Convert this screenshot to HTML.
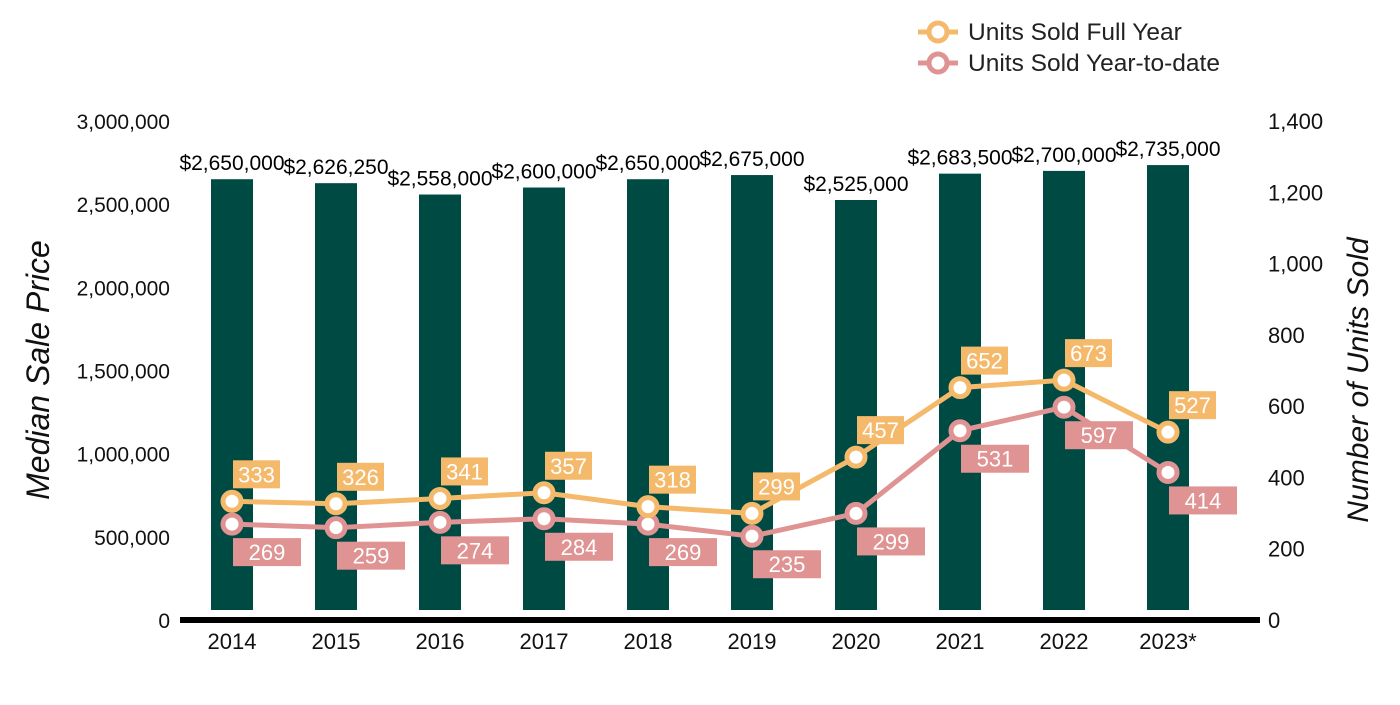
<!DOCTYPE html>
<html><head><meta charset="utf-8"><style>
body{margin:0;background:#fff;font-family:"Liberation Sans",Arial,sans-serif}
svg text{font-family:"Liberation Sans",Arial,sans-serif}
</style></head><body>
<svg id="chart" width="1400" height="700" viewBox="0 0 1400 700">
<g id="legend">
 <g>
  <line x1="918" y1="32" x2="958" y2="32" stroke="#F5B96B" stroke-width="5"/>
  <circle cx="938" cy="32" r="9" fill="#fff" stroke="#F5B96B" stroke-width="5"/>
  <text x="968" y="40" font-size="24.5" fill="#222">Units Sold Full Year</text>
 </g>
 <g>
  <line x1="918" y1="63" x2="958" y2="63" stroke="#E09393" stroke-width="5"/>
  <circle cx="938" cy="63" r="9" fill="#fff" stroke="#E09393" stroke-width="5"/>
  <text x="968" y="71" font-size="24.5" fill="#222">Units Sold Year-to-date</text>
 </g>
</g>
<text x="49" y="370" font-size="32" font-style="italic" fill="#111" transform="rotate(-90 49 370)" text-anchor="middle">Median Sale Price</text>
<text x="1368" y="380" font-size="30" font-style="italic" fill="#111" transform="rotate(-90 1368 380)" text-anchor="middle">Number of Units Sold</text>
<g id="bars"></g><g id="axes"></g><g id="lines"></g>
</svg>
<script>
const categories=["2014","2015","2016","2017","2018","2019","2020","2021","2022","2023*"];
const prices=[2650000,2626250,2558000,2600000,2650000,2675000,2525000,2683500,2700000,2735000];
const priceLabels=["$2,650,000","$2,626,250","$2,558,000","$2,600,000","$2,650,000","$2,675,000","$2,525,000","$2,683,500","$2,700,000","$2,735,000"];
const fullYear=[333,326,341,357,318,299,457,652,673,527];
const ytd=[269,259,274,284,269,235,299,531,597,414];
const leftTicks=[0,500000,1000000,1500000,2000000,2500000,3000000];
const rightTicks=[0,200,400,600,800,1000,1200,1400];
const NS="http://www.w3.org/2000/svg";
const y0=620,y1=121;
const x=i=>232+i*104;
const yL=v=>y0-v/3000000*(y0-y1);
const yR=v=>y0-v/1400*(y0-y1);
function mk(t,a,p){const e=document.createElementNS(NS,t);for(const k in a)e.setAttribute(k,a[k]);p.appendChild(e);return e;}
const bars=document.getElementById('bars'),axes=document.getElementById('axes'),lines=document.getElementById('lines');
prices.forEach((v,i)=>{
 const r=mk('rect',{x:x(i)-21,y:yL(v),width:42,height:610-yL(v),fill:'#004A44'},bars);
 
 
 const t=mk('text',{x:x(i),y:yL(v)-9,'font-size':21,'text-anchor':'middle',fill:'#000'},bars);
 t.textContent=priceLabels[i];
 
 
});
const ax=mk('rect',{x:180,y:617,width:1080,height:6,fill:'#000'},axes);


leftTicks.forEach(v=>{const t=mk('text',{x:170,y:yL(v)+8,'font-size':21,'text-anchor':'end',fill:'#111'},axes);t.textContent=v.toLocaleString('en-US');
 
 });
rightTicks.forEach(v=>{const t=mk('text',{x:1268,y:yR(v)+8,'font-size':22,fill:'#111'},axes);t.textContent=v.toLocaleString('en-US');
 
 });
categories.forEach((c,i)=>{const t=mk('text',{x:x(i),y:649,'font-size':22,'text-anchor':'middle',fill:'#111'},axes);t.textContent=c;
 
 });
function series(data,color,name,above){
 const g=mk('g',{},lines);
 
 
 mk('polyline',{points:data.map((v,i)=>x(i)+','+yR(v)).join(' '),fill:'none',stroke:color,'stroke-width':5},g);
 data.forEach((v,i)=>{
  const c=mk('circle',{cx:x(i),cy:yR(v),r:9,fill:'#fff',stroke:color,'stroke-width':5},g);
  
  
  const w=above?47:68,bx=x(i)+1,by=above?yR(v)-41:yR(v)+14;
  mk('rect',{x:bx,y:by,width:w,height:28,fill:color},g);
  const t=mk('text',{x:bx+w/2,y:by+22,'font-size':22,'text-anchor':'middle',fill:'#fff'},g);
  t.textContent=v;
  
  
 });
}
series(ytd,'#E09393','ytd-series',false);
series(fullYear,'#F5B96B','full-year-series',true);
</script>
</body></html>
